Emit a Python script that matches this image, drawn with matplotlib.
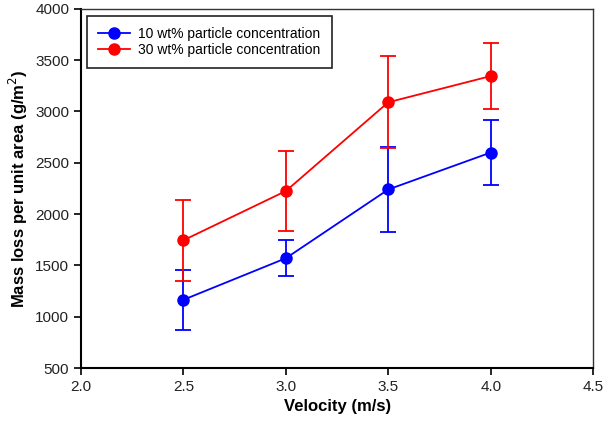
import matplotlib
matplotlib.use("Agg")
import matplotlib.pyplot as plt
from matplotlib.lines import Line2D

plt.rcParams["font.family"] = ["Liberation Sans", "DejaVu Sans"]

velocity = [2.5, 3.0, 3.5, 4.0]
loss_10 = [1165, 1570, 2240, 2600]
err_10 = [290, 175, 415, 320]
loss_30 = [1745, 2225, 3090, 3345]
err_30 = [395, 390, 450, 320]
labels = ["10 wt% particle concentration", "30 wt% particle concentration"]
colors = ["#0000ff", "#ff0000"]

fig = plt.figure(figsize=(6.14, 4.23), dpi=100)
ax = fig.add_axes([0.132, 0.130, 0.834, 0.849])

for y, e, c in ((loss_10, err_10, colors[0]), (loss_30, err_30, colors[1])):
    ax.errorbar(velocity, y, yerr=e, color=c, marker="o", ms=8,
                lw=1.3, elinewidth=1.3, capsize=6, capthick=1.3)

ax.set_xlim(2.0, 4.5)
ax.set_ylim(500, 4000)
ax.set_xticks([2.0, 2.5, 3.0, 3.5, 4.0, 4.5])
ax.set_xticklabels(["2.0", "2.5", "3.0", "3.5", "4.0", "4.5"])
ax.set_yticks(range(500, 4001, 500))
ax.tick_params(axis="both", labelsize=11, direction="out", length=5, width=1.2,
               top=False, right=False, labelcolor="#222222")
for s in ("left", "bottom"):
    ax.spines[s].set_linewidth(1.5)
for s in ("top", "right"):
    ax.spines[s].set_linewidth(1.0)
    ax.spines[s].set_color("#333333")

ax.set_xlabel("Velocity (m/s)", fontsize=12, fontweight="bold")
ax.set_ylabel("Mass loss per unit area (g/m$^2$)", fontsize=12, fontweight="bold")

handles = [Line2D([], [], color=c, marker="o", ms=8, lw=1.3) for c in colors]
leg = ax.legend(handles, labels, loc="upper left", fontsize=10, fancybox=False,
                framealpha=1, edgecolor="#222222", borderpad=0.8,
                handlelength=2.3, handletextpad=0.6, labelspacing=0.15,
                borderaxespad=0, bbox_to_anchor=(0.0117, 0.9805))
leg.get_frame().set_linewidth(1.2)

fig.savefig("out.png", dpi=100)
